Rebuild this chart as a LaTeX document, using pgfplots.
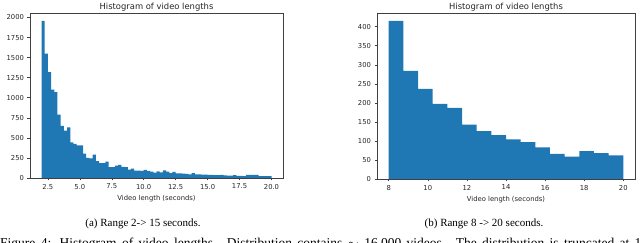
\documentclass[border=0pt]{standalone}
\usepackage{pgfplots}
\pgfplotsset{compat=1.18}
\usepackage{fontspec}
\setmainfont{DejaVu Sans}
\newfontfamily\capfont{Liberation Serif}
\definecolor{mplblue}{HTML}{1F77B4}
\pgfplotsset{
  myax/.style={
    scale only axis,
    axis line style={draw=black!75, line width=0.6pt},
    tick style={draw=black!75, line width=0.5pt},
    tick align=outside,
    major tick length=2.5pt,
    xtick pos=bottom, ytick pos=left,
    ticklabel style={font=\fontsize{6.8}{8}\selectfont, text=black!85},
    /pgf/number format/assume math mode=true,
    label style={font=\fontsize{6.8}{8}\selectfont, text=black!85},
    title style={font=\fontsize{8.4}{10}\selectfont, text=black!85, yshift=-8pt},
    ymin=0,
  }
}
\begin{document}
\begin{tikzpicture}
\begin{axis}[myax,
  at={(30pt,65pt)}, anchor=south west,
  width=253pt, height=165pt,
  xmin=1.1, xmax=20.9, ymax=2056,
  xtick={2.5,5,7.5,10,12.5,15,17.5,20},
  xticklabel style={/pgf/number format/.cd, fixed, fixed zerofill, precision=1},
  ytick={0,250,500,750,1000,1250,1500,1750,2000},
  yticklabel style={/pgf/number format/.cd, fixed, 1000 sep={}},
  title={Histogram of video lengths},
  xlabel={Video length (seconds)},
  xlabel style={yshift=1pt},
]
\addplot[const plot, fill=mplblue, draw=none] coordinates {
(2.00,1958)(2.25,1550)(2.50,1320)(2.75,1100)(3.00,1070)(3.25,790)(3.50,650)(3.75,590)
(4.00,630)(4.25,445)(4.50,425)(4.75,405)(5.00,405)(5.25,305)(5.50,250)(5.75,245)
(6.00,290)(6.25,210)(6.50,185)(6.75,185)(7.00,205)(7.25,135)(7.50,135)(7.75,155)
(8.00,165)(8.25,140)(8.50,135)(8.75,105)(9.00,118)(9.25,92)(9.50,92)(9.75,90)
(10.00,100)(10.25,88)(10.50,78)(10.75,68)(11.00,82)(11.25,70)(11.50,95)(11.75,80)
(12.00,62)(12.25,75)(12.50,58)(12.75,58)(13.00,55)(13.25,50)(13.50,45)(13.75,62)
(14.00,45)(14.25,45)(14.50,42)(14.75,42)(15.00,40)(15.25,38)(15.50,35)(15.75,35)
(16.00,40)(16.25,32)(16.50,30)(16.75,30)(17.00,35)(17.25,25)(17.50,25)(17.75,22)
(18.00,38)(18.25,38)(18.50,38)(18.75,38)(19.00,22)(19.25,22)(19.50,22)(19.75,22)
(20.00,22)
} \closedcycle;
\end{axis}
\begin{axis}[myax,
  at={(377pt,64pt)}, anchor=south west,
  width=258pt, height=166pt,
  xmin=7.4, xmax=20.6, ymax=436,
  xtick={8,10,12,14,16,18,20},
  ytick={0,50,100,150,200,250,300,350,400},
  title={Histogram of video lengths},
  xlabel={Video length (seconds)},
  xlabel style={yshift=1pt},
]
\addplot[const plot, fill=mplblue, draw=none] coordinates {
(8,415)(8.75,284)(9.5,237)(10.25,197)(11,187)(11.75,143)(12.5,126)(13.25,115)
(14,104)(14.75,97)(15.5,83)(16.25,66)(17,59)(17.75,73)(18.5,68)(19.25,62)(20,62)
} \closedcycle;
\end{axis}
\node[anchor=base, font=\capfont\fontsize{11}{13}\selectfont] at (143pt,16pt) {(a) Range 2-> 15 seconds.};
\node[anchor=base, font=\capfont\fontsize{11}{13}\selectfont] at (484pt,16pt) {(b) Range 8 -> 20 seconds.};
\node[anchor=base west, inner sep=0pt, font=\capfont\fontsize{13.5}{15}\selectfont] at (0pt,-4.5pt) {\makebox[648pt][s]{Figure 4: Histogram of video lengths. Distribution contains $\sim$ 16,000 videos. The distribution is truncated at 15}};
\pgfresetboundingbox
\path[use as bounding box] (0pt,0pt) rectangle (640pt,243pt);
\end{tikzpicture}
\end{document}
